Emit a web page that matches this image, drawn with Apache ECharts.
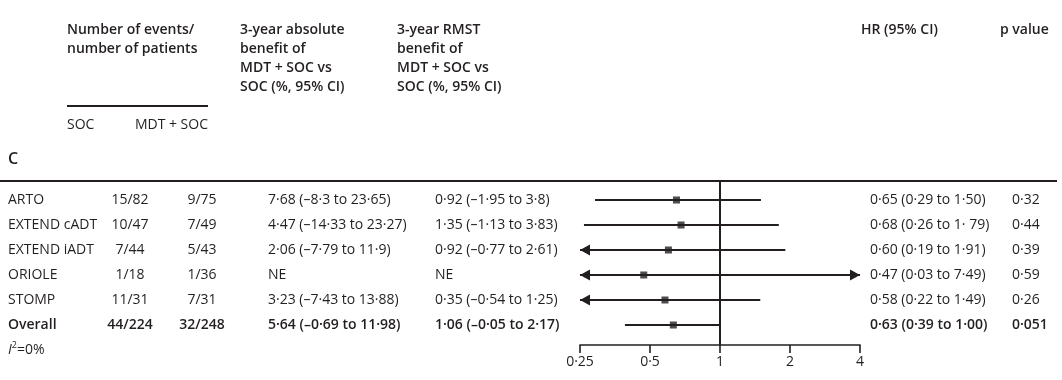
<!DOCTYPE html>
<html><head><meta charset="utf-8">
<script src="https://cdn.jsdelivr.net/npm/echarts@6/dist/echarts.min.js"></script>
<style>html,body{margin:0;padding:0;background:#fff}#c{width:1062px;height:380px}</style>
</head><body><div id="c"></div>
<script>
const studies = ['ARTO', 'EXTEND cADT', 'EXTEND iADT', 'ORIOLE', 'STOMP', 'Overall'];
const socEvents = ['15/82', '10/47', '7/44', '1/18', '11/31', '44/224'];
const mdtEvents = ['9/75', '7/49', '5/43', '1/36', '7/31', '32/248'];
const absBenefit = ['7·68 (–8·3 to 23·65)', '4·47 (–14·33 to 23·27)', '2·06 (–7·79 to 11·9)', 'NE', '3·23 (–7·43 to 13·88)', '5·64 (–0·69 to 11·98)'];
const rmstBenefit = ['0·92 (–1·95 to 3·8)', '1·35 (–1·13 to 3·83)', '0·92 (–0·77 to 2·61)', 'NE', '0·35 (–0·54 to 1·25)', '1·06 (–0·05 to 2·17)'];
const hr = [0.65, 0.68, 0.60, 0.47, 0.58, 0.63];
const hrLow = [0.29, 0.26, 0.19, 0.03, 0.22, 0.39];
const hrHigh = [1.50, 1.79, 1.91, 7.49, 1.49, 1.00];
const hrText = ['0·65 (0·29 to 1·50)', '0·68 (0·26 to 1· 79)', '0·60 (0·19 to 1·91)', '0·47 (0·03 to 7·49)', '0·58 (0·22 to 1·49)', '0·63 (0·39 to 1·00)'];
const pValues = ['0·32', '0·44', '0·39', '0·59', '0·26', '0·051'];
const boldRows = [false, false, false, false, false, true];
const tickValues = [0.25, 0.5, 1, 2, 4];
const tickLabels = ['0·25', '0·5', '1', '2', '4'];

const FONT = 'Open Sans';
const INK = '#231f20';
const FS = 14;
const AX_MIN = 0.25, AX_MAX = 4;
const chart = echarts.init(document.getElementById('c'));

chart.setOption({
  animation: false,
  grid: { left: 580, width: 280, top: 175, height: 170 },
  xAxis: {
    type: 'log', logBase: 2, min: AX_MIN, max: AX_MAX, position: 'bottom',
    axisLine: { onZero: false, lineStyle: { color: INK, width: 1.6 } },
    axisTick: { length: 8, lineStyle: { color: INK, width: 1.6 } },
    axisLabel: {
      fontFamily: FONT, fontSize: FS, color: INK, margin: 10,
      formatter: v => { const k = tickValues.findIndex(t => Math.abs(t - v) < 1e-6); return k >= 0 ? tickLabels[k] : ''; }
    },
    splitLine: { show: false }
  },
  yAxis: { type: 'value', inverse: true, min: 0, max: 6.8, show: false },
  series: [
    { type: 'line', data: [[1, 0.24], [1, 6.8]], symbol: 'none', silent: true,
      lineStyle: { color: INK, width: 2 }, z: 1 },
    { type: 'custom', clip: false, z: 2,
      data: studies.map((s, i) => [hrLow[i], hrHigh[i], i + 1]),
      renderItem: (params, api) => {
        const lo = api.value(0), hi = api.value(1), row = api.value(2);
        const y = api.coord([1, row])[1];
        const x1 = api.coord([Math.max(lo, AX_MIN), row])[0];
        const x2 = api.coord([Math.min(hi, AX_MAX), row])[0];
        const ch = [{ type: 'line', shape: { x1: x1, y1: y, x2: x2, y2: y }, style: { stroke: INK, lineWidth: 1.8 } }];
        if (lo < AX_MIN) ch.push({ type: 'polygon', shape: { points: [[x1, y], [x1 + 10, y - 5.5], [x1 + 10, y + 5.5]] }, style: { fill: INK } });
        if (hi > AX_MAX) ch.push({ type: 'polygon', shape: { points: [[x2, y], [x2 - 10, y - 5.5], [x2 - 10, y + 5.5]] }, style: { fill: INK } });
        return { type: 'group', children: ch };
      }
    },
    { type: 'scatter', symbol: 'rect', symbolSize: 7, z: 3,
      data: hr.map((v, i) => [v, i + 1]), itemStyle: { color: INK } }
  ]
});

function txt(x, y, s, opt) {
  opt = opt || {};
  return { type: 'text', x: x, y: y, silent: true,
    style: { text: s, fill: INK, fontFamily: FONT, fontSize: opt.size || FS, fontWeight: opt.bold ? (opt.weight || 'bold') : 'normal',
      align: opt.align || 'left', verticalAlign: opt.va || 'middle', lineHeight: opt.lh || 19, rich: opt.rich } };
}
const g = [];
const HB = { bold: true, weight: 600, size: 14, va: 'top', lh: 19 };
g.push(txt(67, 21, 'Number of events/\nnumber of patients', HB));
g.push(txt(240, 21, '3-year absolute\nbenefit of\nMDT + SOC vs\nSOC (%, 95% CI)', HB));
g.push(txt(397, 21, '3-year RMST\nbenefit of\nMDT + SOC vs\nSOC (%, 95% CI)', HB));
g.push(txt(861, 21, 'HR (95% CI)', HB));
g.push(txt(1000, 21, 'p value', HB));
g.push({ type: 'line', silent: true, z: 10, shape: { x1: 67, y1: 106, x2: 208, y2: 106 }, style: { stroke: INK, lineWidth: 2 } });
g.push(txt(67, 125, 'SOC'));
g.push(txt(208, 125, 'MDT + SOC', { align: 'right' }));
g.push(txt(8, 159, 'C', { bold: true, weight: 600, size: 16 }));
g.push({ type: 'line', silent: true, z: 10, shape: { x1: 0, y1: 181, x2: 1057, y2: 181 }, style: { stroke: INK, lineWidth: 2 } });
studies.forEach((s, i) => {
  const y = chart.convertToPixel({ yAxisIndex: 0 }, i + 1);
  const o = { bold: boldRows[i], weight: 600 };
  g.push(txt(8, y, s, o));
  g.push(txt(130, y, socEvents[i], Object.assign({ align: 'center' }, o)));
  g.push(txt(202, y, mdtEvents[i], Object.assign({ align: 'center' }, o)));
  g.push(txt(268, y, absBenefit[i], o));
  g.push(txt(435, y, rmstBenefit[i], o));
  g.push(txt(870, y, hrText[i], o));
  g.push(txt(1012, y, pValues[i], o));
});
const yI = chart.convertToPixel({ yAxisIndex: 0 }, studies.length + 1);
g.push(txt(8, yI, '{i|I}{s|2}=0%', { rich: { i: { fontStyle: 'italic', fontFamily: FONT, fontSize: FS, fill: INK }, s: { fontSize: 9, fontFamily: FONT, verticalAlign: 'top', padding: [0, 0, 6, 0], fill: INK } } }));
chart.setOption({ graphic: { elements: g } });
</script></body></html>
